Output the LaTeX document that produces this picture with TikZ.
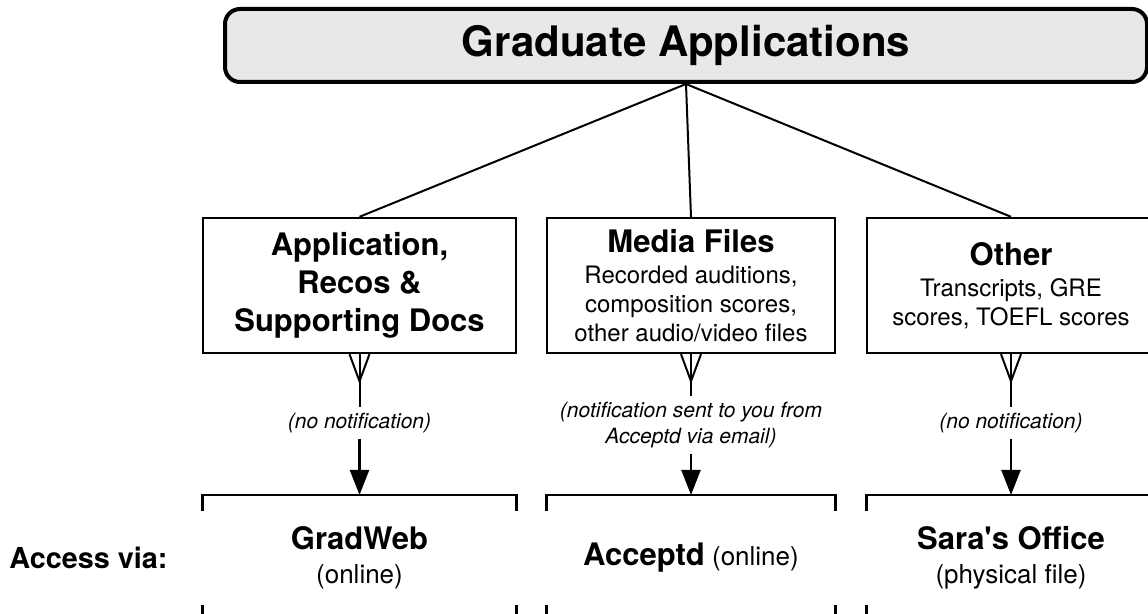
\documentclass[tikz,border=0pt]{standalone}
\usepackage{fontspec}
\setmainfont{TeX Gyre Heros}
\usepackage{tikz}
\usetikzlibrary{arrows.meta,positioning,calc}

\definecolor{titlegray}{RGB}{232,232,232}

\tikzset{
  topbox/.style={draw, line width=2pt, rounded corners=7.5pt, fill=titlegray,
    minimum width=461pt, minimum height=36.5pt, inner sep=0pt,
    font=\bfseries\fontsize{21}{25}\selectfont},
  catbox/.style={draw, line width=1.2pt, minimum height=67.5pt, align=center,
    inner sep=0pt, font=\fontsize{12}{14.5}\selectfont},
  note/.style={align=center, inner sep=3pt, font=\itshape\fontsize{10.5}{13}\selectfont},
  place/.style={anchor=north, minimum height=62.5pt, align=center, inner sep=0pt,
    font=\fontsize{13}{17}\selectfont},
  bracket/.style={line width=1.2pt},
  link/.style={line width=1pt},
  flow/.style={line width=1.1pt, -{Triangle[length=12.5pt,width=9.5pt]}}
}

\newcommand{\headfont}{\bfseries\fontsize{15.5}{19}\selectfont}

\begin{document}
\begin{tikzpicture}[x=0.5pt,y=-0.5pt]
  \useasboundingbox (0,0) rectangle (1148,614);

  % title
  \node[topbox] (grad) at (686,45.5) {Graduate Applications};

  % categories
  \node[catbox, minimum width=156.5pt, font=\headfont] (app) at (359.5,285.5)
    {Application,\\Recos \&\\Supporting Docs};
  \node[catbox, minimum width=144pt] (media) at (691,285.5)
    {{\headfont Media Files}\\[1pt]Recorded auditions,\\composition scores,\\other audio/video files};
  \node[catbox, minimum width=144pt] (other) at (1011,285.5)
    {{\headfont Other}\\[1pt]Transcripts, GRE\\scores, TOEFL scores};

  \draw[link] (grad.south) -- (app.north);
  \draw[link] (grad.south) -- (media.north);
  \draw[link] (grad.south) -- (other.north);

  % notes
  \node[note] (n1) at (359.5,423) {(no notification)};
  \node[note] (n2) at (691,425) {(notification sent to you from\\Acceptd via email)};
  \node[note] (n3) at (1011,423) {(no notification)};

  % access
  \node[place, minimum width=156.5pt] (gw) at (359.5,495) {{\headfont GradWeb}\\(online)};
  \node[place, minimum width=144pt] (acc) at (691,495) {{\headfont Acceptd} (online)};
  \node[place, minimum width=144pt] (sara) at (1011,495) {{\headfont Sara\textquotesingle s Office}\\(physical file)};
  \node[anchor=west, inner sep=0pt, font=\bfseries\fontsize{14.4}{17}\selectfont] (via) at (9,558) {Access via:};

  % crow feet and arrows
  \draw[link] (app.south) -- (n1.north);
  \draw[link] (app.south) ++(-10,0) -- ++(10,27) -- ++(10,-27);
  \draw[flow] (n1.south) -- (gw.north);

  \draw[link] (media.south) -- (n2.north);
  \draw[link] (media.south) ++(-10,0) -- ++(10,27) -- ++(10,-27);
  \draw[flow] (n2.south) -- (acc.north);

  \draw[link] (other.south) -- (n3.north);
  \draw[link] (other.south) ++(-10,0) -- ++(10,27) -- ++(10,-27);
  \draw[flow] (n3.south) -- (sara.north);

  % brackets
  \draw[bracket] (gw.north west) ++(0,16) |- (gw.north east) -- ++(0,16);
  \draw[bracket] (gw.south west) -- ++(0,-16);
  \draw[bracket] (gw.south east) -- ++(0,-16);
  \draw[bracket] (acc.north west) ++(0,16) |- (acc.north east) -- ++(0,16);
  \draw[bracket] (acc.south west) -- ++(0,-16);
  \draw[bracket] (acc.south east) -- ++(0,-16);
  \draw[bracket] (sara.north west) ++(0,16) |- (sara.north east) -- ++(0,16);
  \draw[bracket] (sara.south west) -- ++(0,-16);
  \draw[bracket] (sara.south east) -- ++(0,-16);
\end{tikzpicture}
\end{document}
